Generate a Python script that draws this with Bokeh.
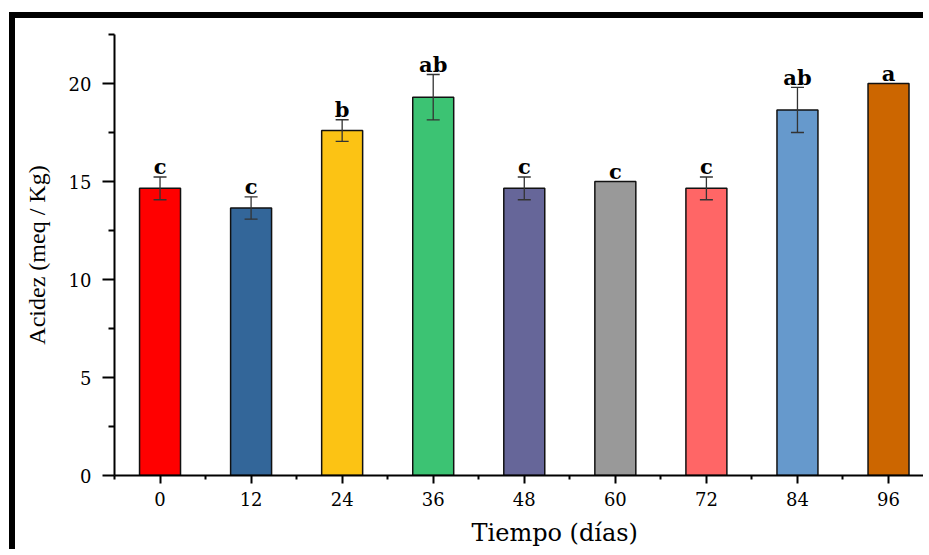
from bokeh.plotting import figure
from bokeh.models import ColumnDataSource, FixedTicker, Whisker, TeeHead, Title
from bokeh.core.properties import value
from bokeh.embed import file_html
from bokeh.resources import INLINE

# ---- data ----
days = ["0", "12", "24", "36", "48", "60", "72", "84", "96"]
acidez = [14.65, 13.65, 17.6, 19.3, 14.65, 15.0, 14.65, 18.65, 20.0]
error = [0.58, 0.57, 0.55, 1.16, 0.58, 0.0, 0.58, 1.15, 0.0]
letters = ["c", "c", "b", "ab", "c", "c", "c", "ab", "a"]
colors = ["#FF0000", "#336699", "#FCC314", "#3CC373", "#666699",
          "#999999", "#FF6666", "#6699CC", "#CC6600"]
y_ticks = [0, 5, 10, 15, 20]

idx = list(range(len(days)))
src = ColumnDataSource(dict(
    x=idx, top=acidez, color=colors, label=letters,
    ytext=[a + e for a, e in zip(acidez, error)],
))
eb_x = [i for i, e in zip(idx, error) if e > 0]
eb_up = [a + e for a, e in zip(acidez, error) if e > 0]
eb_lo = [a - e for a, e in zip(acidez, error) if e > 0]
esrc = ColumnDataSource(dict(x=eb_x, upper=eb_up, lower=eb_lo))

p = figure(width=914, height=537, output_backend="svg", toolbar_location=None,
           x_range=(-0.5, 8.45), y_range=(0, 22.5),
           min_border_left=99, min_border_top=16, min_border_bottom=79,
           min_border_right=0)
p.styles = {"border-top": "6px solid black", "border-left": "6px solid black",
            "margin-top": "12px", "margin-left": "9px"}
p.outline_line_color = None
p.xgrid.visible = False
p.ygrid.visible = False

p.vbar(x="x", top="top", width=0.45, bottom=0, source=src,
       fill_color="color", line_color="#111111", line_width=1.5)

w = Whisker(base="x", upper="upper", lower="lower", source=esrc, level="overlay",
            line_color="#333333", line_width=1.3,
            upper_head=TeeHead(size=13, line_color="#333333", line_width=1.3),
            lower_head=TeeHead(size=13, line_color="#333333", line_width=1.3))
p.add_layout(w)

p.text(x="x", y="ytext", text="label", source=src,
       text_font=value("DejaVu Serif"), text_font_style="bold",
       text_font_size="21px", text_align="center", text_baseline="alphabetic",
       y_offset=-10, text_color="black")

# axes
xa = p.xaxis[0]
xa.ticker = FixedTicker(ticks=idx, minor_ticks=[i - 0.5 for i in idx] + [len(idx) - 0.5])
xa.major_label_overrides = {i: d for i, d in zip(idx, days)}
ya = p.yaxis[0]
ya.ticker = FixedTicker(ticks=y_ticks, minor_ticks=[t + 2.5 for t in y_ticks])

for ax in (xa, ya):
    ax.axis_line_width = 2
    ax.axis_line_color = "black"
    ax.major_tick_line_width = 2
    ax.minor_tick_line_width = 2
    ax.major_tick_in = 0
    ax.minor_tick_in = 0
    ax.major_label_text_font = "DejaVu Serif"
    ax.major_label_text_font_size = "18px"
    ax.major_label_text_color = "black"

xa.major_tick_out = 8
xa.minor_tick_out = 4
xa.major_label_standoff = 8
ya.major_tick_out = 12
ya.minor_tick_out = 6
ya.major_label_standoff = 11

ya.axis_label = "Acidez (meq / Kg)"
ya.axis_label_text_font = "Liberation Serif"
ya.axis_label_text_font_style = "normal"
ya.axis_label_text_font_size = "24px"
ya.axis_label_text_color = "black"
ya.axis_label_standoff = 16

xt = Title(text="Tiempo (días)", align="left", offset=357,
           text_font="DejaVu Serif", text_font_style="normal",
           text_font_size="24px", text_color="black", standoff=17)
p.add_layout(xt, "below")

open("out.html", "w").write(file_html(p, INLINE))
